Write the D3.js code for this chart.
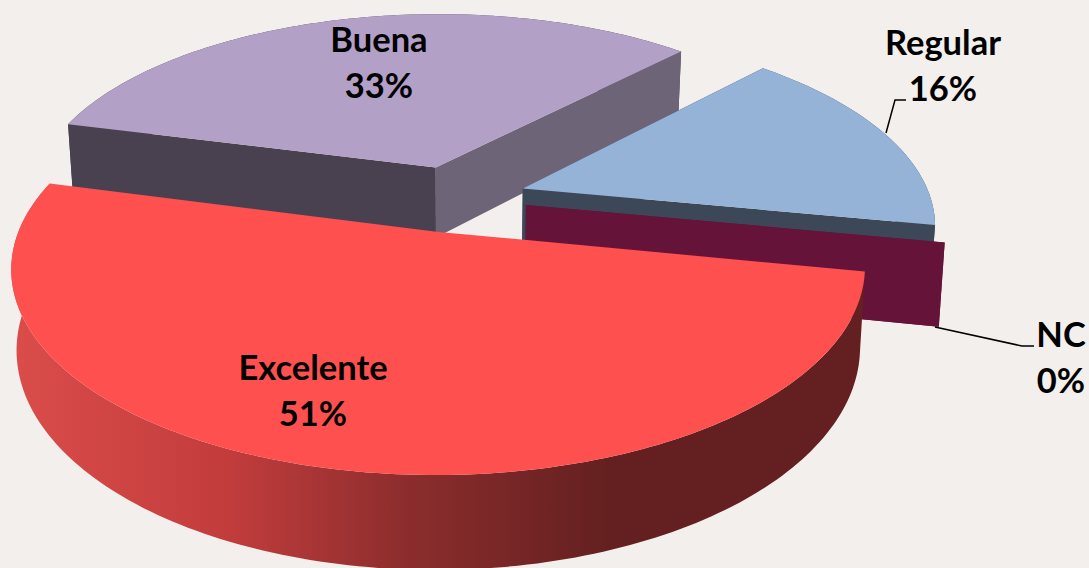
<!DOCTYPE html>
<html>
<head>
<meta charset="utf-8">
<script src="https://cdn.jsdelivr.net/npm/d3@7"></script>
<style>
  html, body { margin: 0; padding: 0; background: #f2efec; }
  svg { display: block; }
  text { font-family: Lato, "Open Sans", sans-serif; font-weight: 700; font-size: 34.5px; fill: #000; text-anchor: middle; }
</style>
</head>
<body>
<svg id="chart" width="1089" height="568"></svg>
<script>
// chart values
const categories = ['Excelente', 'Buena', 'Regular', 'NC'];
const percents = [51, 33, 16, 0];
const topColors = ['#ff5050', '#b2a0c7', '#95b3d7', '#66133a'];
const startWallColors = ['#642020', '#4a4150', '#3c4858', '#66133a'];
const endWallColors = ['#642020', '#6e6478', '#3c4858', '#66133a'];
const wallHeights = [76, 72, 76, 81];

// projection of the tilted pie
const cx = 455, cy = 198.5, sx = 408, sy = 189, persp = 0.17;
const wallShrink = 0.988, explode = 0.176;
const firstAngle = 101 * Math.PI / 180;

const svg = d3.select('#chart');
const defs = svg.append('defs');

const grad = defs.append('linearGradient')
  .attr('id', 'rimGrad')
  .attr('gradientUnits', 'userSpaceOnUse')
  .attr('x1', 20).attr('x2', 860).attr('y1', 0).attr('y2', 0);
[[0, '#d94c4a'], [0.25, '#c23c3c'], [0.46, '#8c2d2d'], [0.7, '#642020'], [1, '#642020']].forEach(s => {
  grad.append('stop').attr('offset', s[0]).attr('stop-color', s[1]);
});

const project = (X, Y, drop) => {
  let s = 1 / (1 + persp * Y);
  let x = cx + sx * X * s;
  let y = cy - sy * Y * s;
  if (drop) {
    x = cx + (x - cx) * wallShrink;
    y += drop * s;
  }
  return [x, y];
};

const pie = d3.pie().sort(null).value(d => d)
  .startAngle(firstAngle).endAngle(firstAngle + 2 * Math.PI);
const arcs = pie(percents);
const line = d3.line();

const rimPoints = (a, drop) => {
  let mid = (a.startAngle + a.endAngle) / 2;
  let ox = explode * Math.sin(mid), oy = explode * Math.cos(mid);
  let n = Math.max(1, Math.ceil((a.endAngle - a.startAngle) / 0.02));
  return d3.range(n + 1).map(i => {
    let t = a.startAngle + (a.endAngle - a.startAngle) * i / n;
    return project(ox + Math.sin(t), oy + Math.cos(t), drop);
  });
};

const apexPoint = (a, drop) => {
  let mid = (a.startAngle + a.endAngle) / 2;
  return project(explode * Math.sin(mid), explode * Math.cos(mid), drop);
};

// back to front
const order = [1, 2, 3, 0];
order.forEach(i => {
  let a = arcs[i];
  let g = svg.append('g').attr('class', 'slice-' + categories[i]);
  let h = wallHeights[i];
  let top = rimPoints(a, 0), bottom = rimPoints(a, h);
  let apex = apexPoint(a, 0), apexLow = apexPoint(a, h);
  let last = top.length - 1;

  g.append('path')
    .attr('d', line(top.concat(bottom.slice().reverse())) + 'Z')
    .attr('fill', i === 0 ? 'url(#rimGrad)' : startWallColors[i]);
  // the cut faces of the front slice look away from the viewer
  if (i !== 0) {
    g.append('path')
      .attr('d', line([apex, top[0], bottom[0], apexLow]) + 'Z')
      .attr('fill', startWallColors[i]);
    g.append('path')
      .attr('d', line([apex, top[last], bottom[last], apexLow]) + 'Z')
      .attr('fill', endWallColors[i]);
  }
  if (percents[i] > 0) {
    g.append('path')
      .attr('d', line([apex].concat(top)) + 'Z')
      .attr('fill', topColors[i]);
  }
});

// leader lines
const leaders = [
  [[886, 133], [895, 100], [906, 100]],
  [[935, 327], [1022, 346], [1034, 346]]
];
svg.selectAll('.leader').data(leaders).enter().append('path')
  .attr('class', 'leader')
  .attr('d', line)
  .attr('fill', 'none')
  .attr('stroke', '#000')
  .attr('stroke-width', 1.5);

// labels
const labelPos = [[313, 380], [379, 52], [943, 55], [1061, 347]];
categories.forEach((c, i) => {
  let t = svg.append('text').attr('x', labelPos[i][0]).attr('y', labelPos[i][1]);
  t.append('tspan').text(c);
  t.append('tspan').attr('x', labelPos[i][0]).attr('dy', 46).text(percents[i] + '%');
});
</script>
</body>
</html>
